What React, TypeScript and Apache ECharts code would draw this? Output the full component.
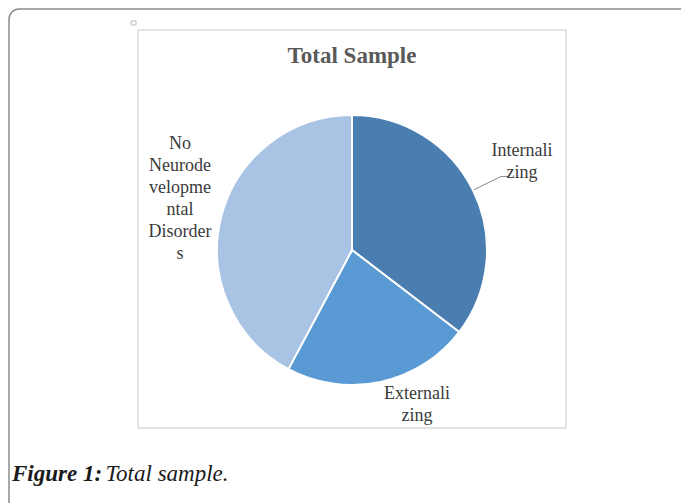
import React, { useEffect, useRef } from "react";
import * as echarts from "echarts";

const categories = ["Internalizing", "Externalizing", "No Neurodevelopmental Disorders"];
const labelLines = [["Internali", "zing"], ["Externali", "zing"], ["No", "Neurode", "velopme", "ntal", "Disorder", "s"]];
const values = [35.4, 22.4, 42.2];
const colors = ["#4A7DB0", "#5A9AD4", "#A8C3E3"];

const W = 681;
const H = 503;
const CENTER: [number, number] = [352, 250];
const RADIUS = 135;
const LABEL_POS = [
  { x: 522, y: 161 },
  { x: 417, y: 404 },
  { x: 180, y: 198 },
];
const SERIF = "Liberation Serif";

export default function App() {
  const ref = useRef<HTMLDivElement>(null);
  useEffect(() => {
    if (!ref.current) return;
    const chart = echarts.init(ref.current, undefined, { renderer: "svg", width: W, height: H });
    const total = values.reduce((a, b) => a + b, 0);
    const option: any = {
      animation: false,
      backgroundColor: "#ffffff",
      graphic: [
        {
          type: "rect",
          shape: { x: 9, y: 9, width: 760, height: 560, r: [10, 0, 0, 0] },
          style: { fill: "none", stroke: "#8c8c8c", lineWidth: 1.5 },
          z: 0,
        },
        {
          type: "rect",
          shape: { x: 138, y: 30, width: 428, height: 398 },
          style: { fill: "#ffffff", stroke: "#dcdcdc", lineWidth: 1.5 },
          z: 0,
        },
        {
          type: "rect",
          shape: { x: 131, y: 21, width: 5, height: 4 },
          style: { fill: "none", stroke: "#bdbdbd", lineWidth: 1 },
          z: 1,
        },
        {
          type: "text",
          x: 352,
          y: 55,
          style: {
            text: "Total Sample",
            align: "center",
            verticalAlign: "middle",
            fontFamily: SERIF,
            fontWeight: "bold",
            fontSize: 23,
            fill: "#595959",
          },
          z: 5,
        },
        {
          type: "text",
          x: 12,
          y: 473,
          style: {
            text: "{b|Figure 1:} {i|Total sample.}",
            verticalAlign: "middle",
            rich: {
              b: { fontFamily: SERIF, fontStyle: "italic", fontWeight: "bold", fontSize: 23, fill: "#1a1a1a" },
              i: { fontFamily: SERIF, fontStyle: "italic", fontSize: 23, fill: "#1a1a1a" },
            },
          },
          z: 5,
        },
      ],
      series: [
        {
          type: "pie",
          center: CENTER,
          radius: RADIUS,
          startAngle: 90,
          clockwise: true,
          z: 3,
          itemStyle: { borderColor: "#ffffff", borderWidth: 2 },
          label: {
            show: true,
            position: "outside",
            fontFamily: SERIF,
            fontSize: 18,
            lineHeight: 22,
            color: "#3a3a3a",
            align: "center",
            formatter: (p: any) => labelLines[p.dataIndex].join("\n"),
          },
          labelLine: { show: true, length: 30, length2: 8, lineStyle: { color: "#8c8c8c", width: 1 } },
          labelLayout: (params: any) => {
            const i = params.dataIndex;
            const res: any = {
              x: LABEL_POS[i].x,
              y: LABEL_POS[i].y,
              align: "center",
              verticalAlign: "middle",
            };
            if (i === 0) {
              let before = 0;
              for (let k = 0; k < i; k++) before += values[k];
              const mid = ((before + values[i] / 2) / total) * Math.PI * 2;
              const dx = Math.sin(mid);
              const dy = -Math.cos(mid);
              const p0 = [CENTER[0] + RADIUS * dx, CENTER[1] + RADIUS * dy];
              const p1 = [CENTER[0] + (RADIUS + 31) * dx, CENTER[1] + (RADIUS + 31) * dy];
              const p2 = [p1[0] + 8, p1[1]];
              res.labelLinePoints = [p0, p1, p2];
            }
            return res;
          },
          data: categories.map((name, i) => ({
            name,
            value: values[i],
            itemStyle: { color: colors[i] },
            labelLine: { show: i === 0 },
          })),
        },
      ],
    };
    chart.setOption(option);
    return () => chart.dispose();
  }, []);
  return (
    <div
      ref={ref}
      style={{ position: "absolute", left: 0, top: 0, width: W, height: H }}
    />
  );
}
